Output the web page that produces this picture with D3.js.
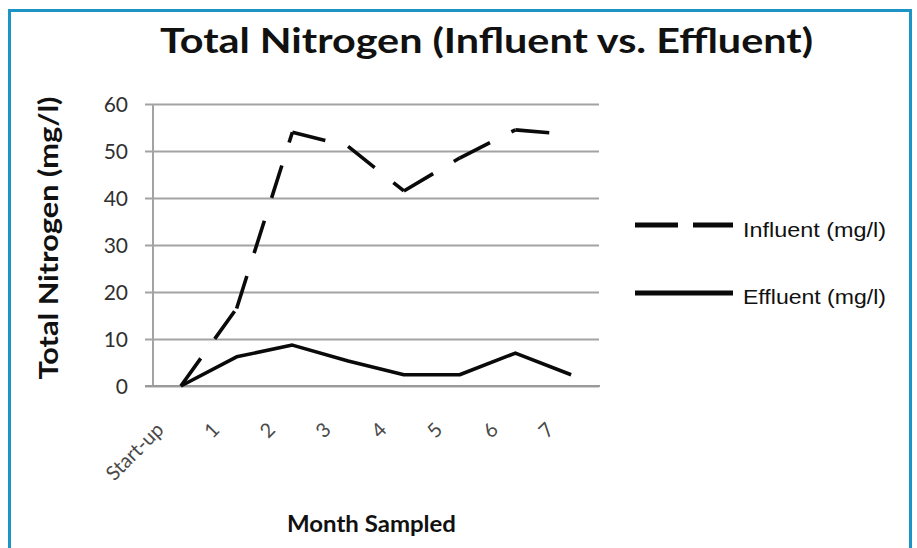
<!DOCTYPE html>
<html>
<head>
<meta charset="utf-8">
<script src="https://cdn.jsdelivr.net/npm/d3@7"></script>
<style>
  html, body { margin: 0; padding: 0; background: #fff; }
  svg { display: block; }
</style>
</head>
<body>
<svg id="chart" width="917" height="548"></svg>
<script>
// ---- data ----
const categories = ["Start-up", "1", "2", "3", "4", "5", "6", "7"];
const influent = [0, 16.5, 54, 51, 41.5, 48.5, 54.5, 53.5];
const effluent = [0, 6.2, 8.7, 5.3, 2.4, 2.4, 7.0, 2.4];
const yTicks = [0, 10, 20, 30, 40, 50, 60];
const seriesNames = ["Influent (mg/l)", "Effluent (mg/l)"];
const titleText = "Total Nitrogen (Influent vs. Effluent)";
const yTitleText = "Total Nitrogen (mg/l)";
const xTitleText = "Month Sampled";

// ---- layout ----
const W = 917, H = 548;
const plot = { left: 153, right: 599, top: 104, bottom: 386 };

const svg = d3.select("#chart");

// frame
svg.append("path")
  .attr("d", `M9.5,${H} V10.5 H910.5 V${H}`)
  .attr("fill", "none")
  .attr("stroke", "#1c95c6")
  .attr("stroke-width", 3);

const x = d3.scaleBand().domain(categories).range([plot.left, plot.right]);
const cx = c => x(c) + x.bandwidth() / 2;
const y = d3.scaleLinear().domain([0, 60]).range([plot.bottom, plot.top]);

// gridlines + y axis ticks
const yAxis = d3.axisLeft(y).tickValues(yTicks).tickSize(-(plot.right - plot.left) - 8).tickPadding(0).tickFormat(d3.format("d"));
const gY = svg.append("g").attr("transform", `translate(${plot.left - 8},0)`).call(yAxis);
gY.select(".domain").remove();
gY.selectAll(".tick line")
  .attr("x1", 0).attr("x2", plot.right - plot.left + 8)
  .attr("stroke", "#a3a3a3").attr("stroke-width", 2);
gY.selectAll(".tick text")
  .attr("x", -17)
  .attr("dy", "0.36em")
  .attr("fill", "#303030")
  .style("font-family", "Lato, 'Open Sans', sans-serif")
  .style("font-size", "21px");

// vertical axis line
svg.append("line")
  .attr("x1", plot.left).attr("x2", plot.left)
  .attr("y1", plot.top).attr("y2", plot.bottom)
  .attr("stroke", "#a3a3a3").attr("stroke-width", 2);
// bottom axis line
svg.append("line")
  .attr("x1", plot.left - 8).attr("x2", plot.right + 1)
  .attr("y1", plot.bottom).attr("y2", plot.bottom)
  .attr("stroke", "#9a9a9a").attr("stroke-width", 2.2);

// x labels (rotated)
const xAxis = d3.axisBottom(x).tickSize(0).tickPadding(0);
const gX = svg.append("g").attr("transform", `translate(0,${plot.bottom})`).call(xAxis);
gX.select(".domain").remove();
gX.selectAll(".tick text")
  .attr("x", 0).attr("y", 0).attr("dy", 0)
  .attr("text-anchor", "end")
  .attr("transform", "translate(-16,45) rotate(-45)")
  .attr("fill", "#4a4a4a")
  .style("font-family", "Lato, 'Open Sans', sans-serif")
  .style("font-size", "20px");

// lines
const line = d3.line().x(d => cx(d.c)).y(d => y(d.v));
const infData = categories.map((c, i) => ({ c, v: influent[i] }));
const effData = categories.map((c, i) => ({ c, v: effluent[i] }));

// influent: dashed, pattern restarts at each vertex
svg.append("g").selectAll("path")
  .data(d3.pairs(infData))
  .join("path")
  .attr("d", d => line(d))
  .attr("fill", "none")
  .attr("stroke", "#0a0a0a")
  .attr("stroke-width", 3.6)
  .attr("stroke-dasharray", "34,24");

svg.append("path")
  .attr("d", line(effData))
  .attr("fill", "none")
  .attr("stroke", "#0a0a0a")
  .attr("stroke-width", 3.6)
  .attr("stroke-linejoin", "round");

// legend
const legend = [
  { name: seriesNames[0], dash: "43,15", ly: 225, ty: 236.5 },
  { name: seriesNames[1], dash: null, ly: 293, ty: 304 }
];
const lg = svg.append("g");
legend.forEach(l => {
  lg.append("line")
    .attr("x1", 635).attr("x2", 733)
    .attr("y1", l.ly).attr("y2", l.ly)
    .attr("stroke", "#0a0a0a").attr("stroke-width", 5)
    .attr("stroke-dasharray", l.dash);
  lg.append("text")
    .attr("x", 743).attr("y", l.ty)
    .attr("textLength", 143).attr("lengthAdjust", "spacingAndGlyphs")
    .attr("fill", "#111")
    .style("font-family", "'Liberation Sans', Arial, sans-serif")
    .style("font-size", "21px")
    .text(l.name);
});

// title
svg.append("text")
  .attr("x", 160).attr("y", 53)
  .attr("textLength", 653).attr("lengthAdjust", "spacingAndGlyphs")
  .attr("fill", "#111")
  .style("font-family", "Lato, 'Open Sans', sans-serif")
  .style("font-weight", "bold")
  .style("font-size", "35px")
  .text(titleText);

// y title
svg.append("text")
  .attr("transform", "translate(58,238) rotate(-90)")
  .attr("text-anchor", "middle")
  .attr("textLength", 283).attr("lengthAdjust", "spacingAndGlyphs")
  .attr("fill", "#111")
  .style("font-family", "Lato, 'Open Sans', sans-serif")
  .style("font-weight", "bold")
  .style("font-size", "27px")
  .text(yTitleText);

// x title
svg.append("text")
  .attr("x", 287).attr("y", 532)
  .attr("textLength", 169).attr("lengthAdjust", "spacingAndGlyphs")
  .attr("fill", "#111")
  .style("font-family", "Lato, 'Open Sans', sans-serif")
  .style("font-weight", "bold")
  .style("font-size", "23px")
  .text(xTitleText);
</script>
</body>
</html>
